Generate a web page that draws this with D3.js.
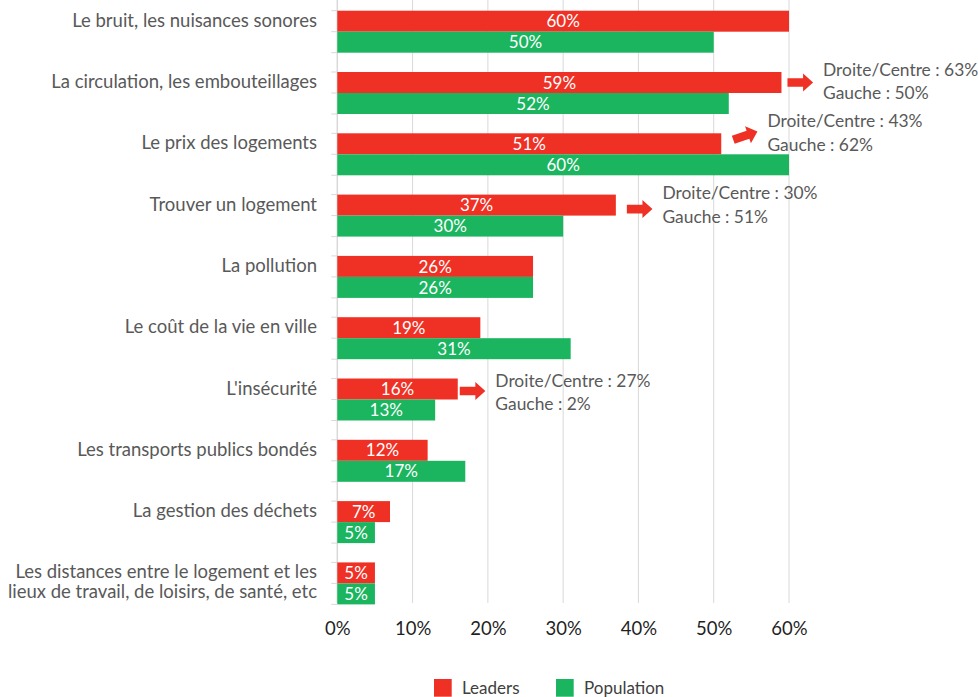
<!DOCTYPE html>
<html>
<head>
<meta charset="utf-8">
<script src="https://cdn.jsdelivr.net/npm/d3@7"></script>
<style>
  body { margin: 0; background: #fff; }
  svg { display: block; font-family: Lato, "Open Sans", sans-serif; }
</style>
</head>
<body>
<svg id="chart"></svg>
<script>
const categories = [
  "Le bruit, les nuisances sonores",
  "La circulation, les embouteillages",
  "Le prix des logements",
  "Trouver un logement",
  "La pollution",
  "Le coût de la vie en ville",
  "L'insécurité",
  "Les transports publics bondés",
  "La gestion des déchets",
  "Les distances entre le logement et les\nlieux de travail, de loisirs, de santé, etc"
];
const leaders    = [60, 59, 51, 37, 26, 19, 16, 12, 7, 5];
const population = [50, 52, 60, 30, 26, 31, 13, 17, 5, 5];
const xTicks = [0, 10, 20, 30, 40, 50, 60];

// split by political side, only for some categories
const splitCats   = ["La circulation, les embouteillages", "Le prix des logements", "Trouver un logement", "L'insécurité"];
const droiteVals  = [63, 43, 30, 27];
const gaucheVals  = [50, 62, 51, 2];

const W = 978, H = 697;
const RED = "#ef3125", GREEN = "#1bb55f";

var svg = d3.select("#chart").attr("width", W).attr("height", H);

var x = d3.scaleLinear().domain([0, 60]).range([337.3, 789]);
var y = d3.scaleBand().domain(categories).range([10.7, 604.4])
    .paddingInner(0.315).paddingOuter(0);
var bh = y.bandwidth() / 2;
var plotBottom = 603;

/* gridlines */
svg.append("g").selectAll("line")
    .data(xTicks.slice(1))
    .enter().append("line")
    .attr("x1", d => x(d)).attr("x2", d => x(d))
    .attr("y1", 0).attr("y2", plotBottom)
    .attr("stroke", "#d9d9d9").attr("stroke-width", 1);

/* category axis line + small ticks */
svg.append("line")
    .attr("x1", x(0)).attr("x2", x(0))
    .attr("y1", 0).attr("y2", plotBottom)
    .attr("stroke", "#d9d9d9").attr("stroke-width", 1.5);

var tickYs = [];
categories.forEach(c => { tickYs.push(y(c), y(c) + bh, y(c) + 2 * bh); });
svg.append("g").selectAll("line")
    .data(tickYs)
    .enter().append("line")
    .attr("x1", x(0) - 6).attr("x2", x(0))
    .attr("y1", d => d).attr("y2", d => d)
    .attr("stroke", "#d9d9d9").attr("stroke-width", 1);

/* bars */
var rows = categories.map((c, i) => ({ cat: c, lead: leaders[i], pop: population[i] }));

var g = svg.append("g");
g.selectAll("rect.lead")
    .data(rows).enter().append("rect")
    .attr("class", "lead")
    .attr("x", x(0)).attr("y", d => y(d.cat))
    .attr("width", d => x(d.lead) - x(0)).attr("height", bh)
    .attr("fill", RED);
g.selectAll("rect.pop")
    .data(rows).enter().append("rect")
    .attr("class", "pop")
    .attr("x", x(0)).attr("y", d => y(d.cat) + bh)
    .attr("width", d => x(d.pop) - x(0)).attr("height", bh)
    .attr("fill", GREEN);

/* value labels inside bars */
g.selectAll("text.vl")
    .data(rows).enter().append("text")
    .attr("class", "vl")
    .attr("x", d => (x(0) + x(d.lead)) / 2)
    .attr("y", d => y(d.cat) + bh / 2)
    .attr("dy", "0.36em")
    .attr("text-anchor", "middle")
    .attr("fill", "#fff").attr("font-size", 17)
    .text(d => d.lead + "%");
g.selectAll("text.vp")
    .data(rows).enter().append("text")
    .attr("class", "vp")
    .attr("x", d => (x(0) + x(d.pop)) / 2)
    .attr("y", d => y(d.cat) + bh * 1.5)
    .attr("dy", "0.36em")
    .attr("text-anchor", "middle")
    .attr("fill", "#fff").attr("font-size", 17)
    .text(d => d.pop + "%");

/* category labels */
var cl = svg.append("g").selectAll("text")
    .data(categories).enter().append("text")
    .attr("x", 317)
    .attr("y", d => y(d) + bh - 5)
    .attr("text-anchor", "end")
    .attr("fill", "#595959").attr("font-size", 18.5);
cl.each(function (d) {
    var lines = d.split("\n");
    var t = d3.select(this);
    lines.forEach((ln, i) => {
        t.append("tspan").attr("x", 317).attr("dy", i == 0 ? 0 : 20).text(ln);
    });
});

/* x axis */
var xAxis = d3.axisBottom(x)
    .tickValues(xTicks)
    .tickFormat(d => d + "%")
    .tickSize(0).tickPadding(2);
var ax = svg.append("g").attr("transform", "translate(0,620)").call(xAxis);
ax.select(".domain").remove();
ax.selectAll("text").attr("font-size", 18.5).attr("fill", "#1f1f1f")
    .attr("font-family", "Lato, 'Open Sans', sans-serif");

/* annotation arrows */
// layout per annotation: gap from bar end, arrow y shift, angle, text baseline offset
var annLayout = [
    { gap: 6,  dy: 0,   ang: 0,   tdy: -6.6 },
    { gap: 12, dy: -4,  ang: -19, tdy: -4 },
    { gap: 11, dy: 4,   ang: 0,   tdy: -9.7 },
    { gap: 2,  dy: 2,   ang: 0,   tdy: -4.2 }
];
var arrowLen = 25.6;

splitCats.forEach((c, i) => {
    var L = annLayout[i];
    var lead = leaders[categories.indexOf(c)];
    var x0 = x(lead) + L.gap;
    var y0 = y(c) + bh / 2 + L.dy;
    var a = L.ang * Math.PI / 180;
    var tipX = x0 + arrowLen * Math.cos(a);
    var tipY = y0 + arrowLen * Math.sin(a);

    // arrow drawn horizontally then rotated
    var sh = 4.3, hh = 9, hl = 10;
    var pts = [
        [0, -sh], [arrowLen - hl, -sh], [arrowLen - hl, -hh], [arrowLen, 0],
        [arrowLen - hl, hh], [arrowLen - hl, sh], [0, sh]
    ];
    svg.append("path")
        .attr("d", d3.line()(pts) + "Z")
        .attr("transform", "translate(" + x0 + "," + y0 + ") rotate(" + L.ang + ")")
        .attr("fill", RED);

    var t = svg.append("text")
        .attr("x", tipX + 10)
        .attr("y", tipY + L.tdy)
        .attr("fill", "#595959").attr("font-size", 17.4);
    t.append("tspan").attr("x", tipX + 10).text("Droite/Centre : " + droiteVals[i] + "%");
    t.append("tspan").attr("x", tipX + 10).attr("dy", 23.5).text("Gauche : " + gaucheVals[i] + "%");
});

/* legend */
var legend = [{ name: "Leaders", color: RED, x: 434 }, { name: "Population", color: GREEN, x: 556 }];
var lg = svg.append("g").selectAll("g")
    .data(legend).enter().append("g")
    .attr("transform", d => "translate(" + d.x + ",679)");
lg.append("rect").attr("width", 17.7).attr("height", 17.7).attr("fill", d => d.color);
lg.append("text").attr("x", 28).attr("y", 14.5)
    .attr("fill", "#404040").attr("font-size", 17)
    .text(d => d.name);
</script>
</body>
</html>
